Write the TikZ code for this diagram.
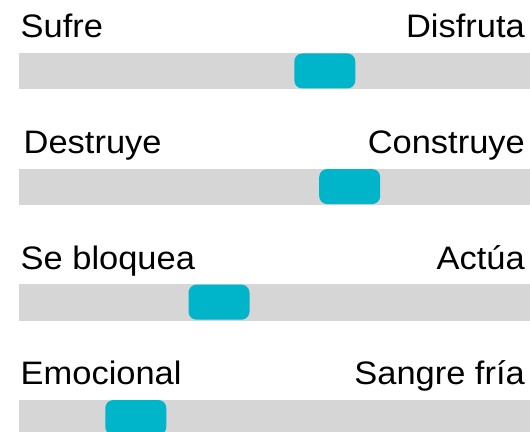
\documentclass[tikz,border=0pt]{standalone}
\usepackage{fontspec}
\setmainfont[FakeStretch=1.06]{Liberation Sans}
\usepackage{tikz}

\definecolor{slidergray}{RGB}{214,214,214}
\definecolor{knobcyan}{RGB}{0,181,201}

\begin{document}
\begin{tikzpicture}[x=1pt,y=-1pt,
  label text/.style={inner sep=0pt,font=\fontsize{32.5}{38}\selectfont},
  bar/.style={fill=slidergray,inner sep=0pt,minimum width=515pt,minimum height=36.5pt,anchor=north west},
  knob/.style={fill=knobcyan,rounded corners=8pt,inner sep=0pt,minimum width=61pt,minimum height=35pt}]
\clip (0,0) rectangle (530,431);

%Bars
\node [bar] (bar1) at (18.7,52.7) {};
\node [bar] (bar2) at (18.7,168.3) {};
\node [bar] (bar3) at (18.7,283.9) {};
\node [bar] (bar4) at (18.7,399.3) {};

%Knobs
\node [knob] (knob1) at (324.8,70.95) {};
\node [knob] (knob2) at (349.7,186.55) {};
\node [knob] (knob3) at (219,302.15) {};
\node [knob] (knob4) at (135.8,417.55) {};

% Text Node
\node [label text,anchor=base west] (left1) at (20.5,37.7) {Sufre};
% Text Node
\node [label text,anchor=base east] (right1) at (525,37.7) {Disfruta};
% Text Node
\node [label text,anchor=base west] (left2) at (23.5,153.3) {Destruye};
% Text Node
\node [label text,anchor=base east] (right2) at (525,153.3) {Construye};
% Text Node
\node [label text,anchor=base west] (left3) at (20.5,269.3) {Se bloquea};
% Text Node
\node [label text,anchor=base east] (right3) at (525,269.3) {Actúa};
% Text Node
\node [label text,anchor=base west] (left4) at (20.5,384.5) {Emocional};
% Text Node
\node [label text,anchor=base east] (right4) at (525,384.5) {Sangre fría};
\end{tikzpicture}
\end{document}
